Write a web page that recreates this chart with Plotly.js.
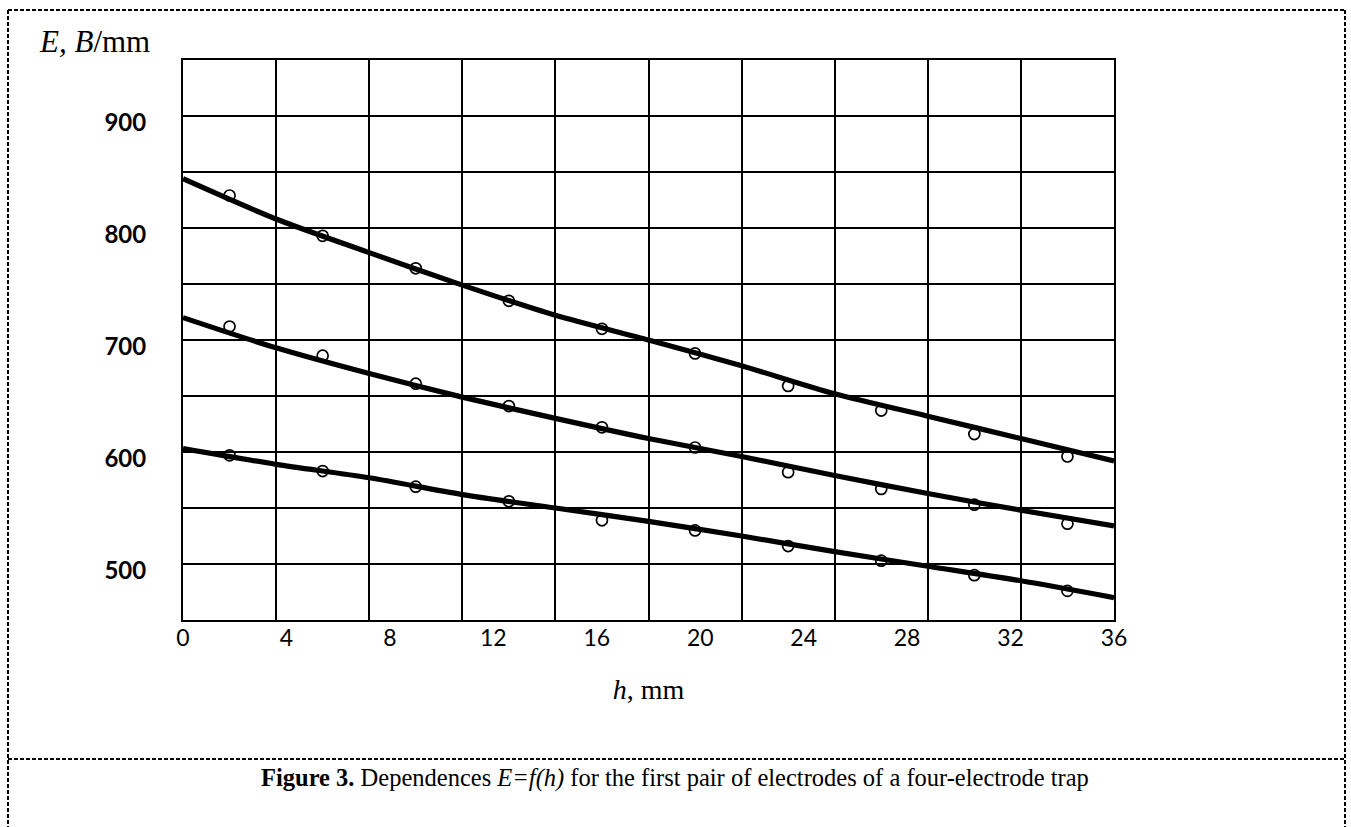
<!DOCTYPE html>
<html>
<head>
<meta charset="utf-8">
<script src="https://cdn.plot.ly/plotly-3.0.1.min.js"></script>
<style>
  html, body { margin: 0; padding: 0; background: #fff; }
  #chart { width: 1351px; height: 827px; }
</style>
</head>
<body>
<div id="chart"></div>
<script>
// ---- Data ----
// measured points, h in mm
const hPoints = [1.8, 5.4, 9.0, 12.6, 16.2, 19.8, 23.4, 27.0, 30.6, 34.2];
const eTopPoints = [829, 793, 764, 735, 710, 688, 659, 637, 616, 596];
const eMidPoints = [712, 686, 661, 641, 622, 604, 582, 567, 553, 536];
const eLowPoints = [597, 583, 569, 556, 539, 530, 516, 503, 490, 476];

// fitted curves, read at the grid columns
const hCurve = [0, 3.6, 7.2, 10.8, 14.4, 18, 21.6, 25.2, 28.8, 32.4, 36];
const eTopCurve = [844, 808, 778, 749, 722, 700, 677, 652, 632, 612, 592];
const eMidCurve = [720, 693, 670, 649, 630, 612, 596, 579, 563, 548, 534];
const eLowCurve = [603, 589, 577, 562, 550, 538, 525, 511, 498, 485, 470];

// axis ticks
const xTickVals = [0, 4, 8, 12, 16, 20, 24, 28, 32, 36];
const xGridVals = [0, 3.6, 7.2, 10.8, 14.4, 18, 21.6, 25.2, 28.8, 32.4, 36];
const yTickVals = [450, 500, 550, 600, 650, 700, 750, 800, 850, 900, 950];
const yTickText = ['', '500', '', '600', '', '700', '', '800', '', '900', ''];

const curveStyle = {color: '#000', width: 5.2, shape: 'spline', smoothing: 0.8};
const markerStyle = {symbol: 'circle-open', size: 11, color: '#000', line: {color: '#000', width: 1.7}};

function curve(y) {
  return {x: hCurve, y: y, mode: 'lines', line: curveStyle, hoverinfo: 'skip', showlegend: false};
}
function pts(y) {
  return {x: hPoints, y: y, mode: 'markers', marker: markerStyle, showlegend: false};
}

const data = [
  curve(eTopCurve), curve(eMidCurve), curve(eLowCurve),
  pts(eTopPoints), pts(eMidPoints), pts(eLowPoints),
  // invisible trace to carry the grid axis
  {x: [0, 36], y: [450, 450], xaxis: 'x2', mode: 'markers', marker: {opacity: 0}, hoverinfo: 'skip', showlegend: false}
];

const dashLine = {color: '#000', width: 2, dash: '4px,2px'};
// paper-coordinate helpers for the page frame (plot area: l=183, t=60, w=931, h=560)
const px = v => (v - 183) / 931;
const py = v => (620 - v) / 560;

const serif = '"Liberation Serif", "Times New Roman", serif';
const sans = 'Lato, Carlito, sans-serif';

const layout = {
  width: 1351, height: 827,
  margin: {l: 183, r: 237, t: 60, b: 207},
  paper_bgcolor: '#fff', plot_bgcolor: '#fff',
  showlegend: false,
  xaxis: {
    range: [0, 36], tickvals: xTickVals, ticktext: xTickVals.map(String),
    showgrid: false, zeroline: false,
    showline: true, linecolor: '#000', linewidth: 2, mirror: true,
    ticks: '', ticklabelstandoff: -4,
    tickfont: {family: sans, size: 23, color: '#000'},
    title: {text: '<i>h</i>, mm', standoff: 30, font: {family: serif, size: 28, color: '#000'}}
  },
  xaxis2: {
    overlaying: 'x', range: [0, 36], tickvals: xGridVals, showticklabels: false,
    showgrid: true, gridcolor: '#000', gridwidth: 2, zeroline: false, ticks: '', showline: false
  },
  yaxis: {
    range: [450, 950], tickvals: yTickVals, ticktext: yTickText,
    showgrid: true, gridcolor: '#000', gridwidth: 2, zeroline: false,
    showline: true, linecolor: '#000', linewidth: 2, mirror: true,
    ticks: '', ticklabelstandoff: 30, ticklabelshift: 7,
    tickfont: {family: sans, size: 24, color: '#000', weight: 'bold'}
  },
  annotations: [
    {xref: 'paper', yref: 'paper', x: px(37), y: py(42), xanchor: 'left', yanchor: 'middle', showarrow: false,
     text: '<i>E,</i> <i>B</i>/mm', font: {family: serif, size: 31, color: '#000'}},
    {xref: 'paper', yref: 'paper', x: px(675), y: py(778), xanchor: 'center', yanchor: 'middle', showarrow: false,
     text: '<b>Figure 3.</b> Dependences <i>E=f(h)</i> for the first pair of electrodes of a four-electrode trap',
     font: {family: serif, size: 24.5, color: '#000'}}
  ],
  shapes: [
    {type: 'line', xref: 'paper', yref: 'paper', x0: px(8), x1: px(1345), y0: py(10), y1: py(10), line: dashLine},
    {type: 'line', xref: 'paper', yref: 'paper', x0: px(8), x1: px(8), y0: py(10), y1: py(827), line: dashLine},
    {type: 'line', xref: 'paper', yref: 'paper', x0: px(1345), x1: px(1345), y0: py(10), y1: py(827), line: dashLine},
    {type: 'line', xref: 'paper', yref: 'paper', x0: px(8), x1: px(1345), y0: py(759), y1: py(759), line: dashLine}
  ]
};

Plotly.newPlot('chart', data, layout, {displayModeBar: false, staticPlot: true});
</script>
</body>
</html>
